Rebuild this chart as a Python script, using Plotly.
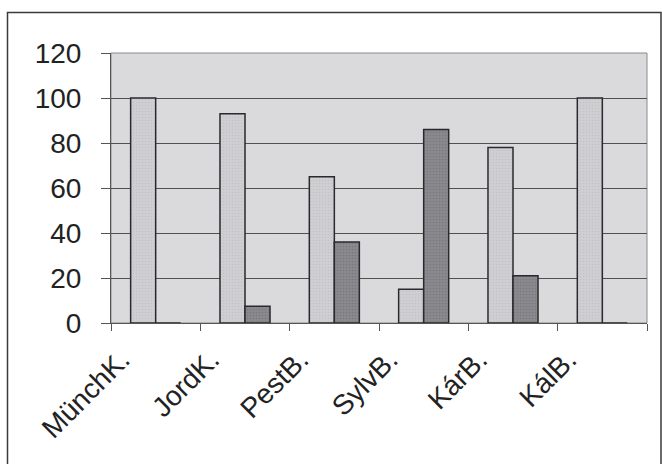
import plotly.graph_objects as go

# Data
categories = ["MünchK.", "JordK.", "PestB.", "SylvB.", "KárB.", "KálB."]
series_a = [100, 93, 65, 15, 78, 100]
series_b = [0, 7.5, 36, 86, 21, 0]
y_ticks = [0, 20, 40, 60, 80, 100, 120]

FONT = "Liberation Sans, Arial, sans-serif"
W, H = 662, 464
ML, MR, MT, MB = 111, 15, 53, 141
PW, PH = W - ML - MR, H - MT - MB

fig = go.Figure()
fig.add_trace(go.Bar(
    x=categories, y=series_a, name="A",
    marker=dict(color="#cfcfd3", line=dict(color="#2a2a2a", width=1.5),
                pattern=dict(shape=".", fgcolor="#b4b4b8", size=3, solidity=0.2)),
))
fig.add_trace(go.Bar(
    x=categories, y=series_b, name="B",
    marker=dict(color="#8a8a8e", line=dict(color="#2a2a2a", width=1.5),
                pattern=dict(shape=".", fgcolor="#68686c", size=3, solidity=0.25)),
))


def px_to_paper_x(px):
    return (px - ML) / PW


def px_to_paper_y(py):
    return 1 - (py - MT) / PH


# outer chart frame (runs past the right and bottom page edges)
fig.add_shape(type="rect", xref="paper", yref="paper",
              x0=px_to_paper_x(7.5), x1=px_to_paper_x(661),
              y0=px_to_paper_y(470), y1=px_to_paper_y(12.5),
              line=dict(color="#3a3a3a", width=1.5), fillcolor="rgba(0,0,0,0)",
              layer="below")
# plot-area border
fig.add_shape(type="rect", xref="paper", yref="paper",
              x0=0, x1=1, y0=0, y1=1,
              line=dict(color="#8a8a8a", width=1), fillcolor="rgba(0,0,0,0)",
              layer="below")

fig.update_layout(
    width=W, height=H,
    margin=dict(l=ML, r=MR, t=MT, b=MB, pad=0),
    paper_bgcolor="white",
    plot_bgcolor="#dadadd",
    barmode="group",
    bargap=0.44,
    bargroupgap=0,
    showlegend=False,
    font=dict(family=FONT, size=28, color="#222"),
)
fig.update_xaxes(
    type="category",
    tickangle=-45,
    ticks="outside", ticklen=7, tickcolor="#555", tickwidth=1,
    tickson="boundaries",
    showline=True, linecolor="#555", linewidth=1,
    showgrid=False,
    ticklabelshift=-34,
    ticklabelstandoff=8,
    tickfont=dict(family=FONT, size=28, color="#222"),
)
fig.update_yaxes(
    range=[0, 120],
    tickvals=y_ticks,
    ticks="outside", ticklen=9, tickcolor="#555", tickwidth=1,
    showline=True, linecolor="#555", linewidth=1,
    showgrid=True, gridcolor="#505050", gridwidth=1,
    zeroline=False,
    ticklabelstandoff=14,
    tickfont=dict(family=FONT, size=28, color="#222"),
)

fig.write_html("out.html")
